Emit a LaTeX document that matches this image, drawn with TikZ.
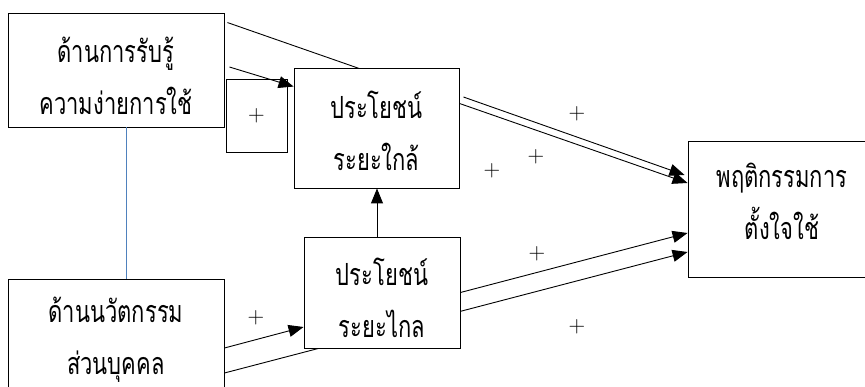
\documentclass[tikz,border=0pt]{standalone}
\usepackage{fontspec}
\newfontfamily\thaifont[Script=Thai,FakeStretch=0.72]{Loma}
\usetikzlibrary{arrows.meta,backgrounds}
\definecolor{linkblue}{RGB}{79,129,189}
\tikzset{
  box/.style={draw=black,line width=0.9pt,fill=white,inner sep=0pt},
  txt/.style={align=center,inner sep=0pt,
    font=\thaifont\fontsize{30.5}{52}\selectfont},
  plus/.style={inner sep=0pt,font=\fontsize{23}{23}\selectfont},
  link/.style={draw=black,line width=0.9pt,-{Triangle[length=15pt,width=12pt]}},
}
\begin{document}
\begin{tikzpicture}[x=1pt,y=-1pt]
\useasboundingbox (0,0) rectangle (865,387);
\clip (0,0) rectangle (865,387);

% boxes
\node[box,minimum width=216pt,minimum height=114pt] (A) at (116,70) {};
\node[box,minimum width=61pt,minimum height=73pt,plus] (B) at (256.5,115.5) {+};
\node[box,minimum width=165pt,minimum height=120pt] (C) at (376.5,128) {};
\node[box,minimum width=188pt,minimum height=136pt] (D) at (782,209) {};
\node[box,minimum width=156pt,minimum height=111pt] (E) at (382,292.5) {};
\node[box,minimum width=216pt,minimum height=122pt] (F) at (116,340) {};

% box texts
\node[txt] (At) at (116,76) {ด้านการรับรู้\\ความง่ายการใช้};
\node[txt] (Ct) at (376.5,131) {ประโยชน์\\ระยะใกล้};
\node[txt] (Dt) at (782,201) {พฤติกรรมการ\\ตั้งใจใช้};
\node[txt] (Et) at (382,297.5) {ประโยชน์\\ระยะไกล};
\node[txt] (Ft) at (116,340) {ด้านนวัตกรรม\\ส่วนบุคคล};

% long links that pass behind the middle boxes
\begin{scope}[on background layer]
  \fill[white] (0,0) rectangle (865,387);
  \draw[link] ([xshift=3pt,yshift=-10pt]A.north east) -- ([yshift=26pt]D.west);
  \draw[link] ([yshift=-33pt]F.east) -- ([yshift=-43pt]D.west);
\end{scope}

% other links
\draw[link] ([xshift=5pt,yshift=3pt]A.east) -- ([yshift=-19pt]C.north west);
\draw[link] ([xshift=4pt,yshift=31pt]C.east) -- ([xshift=-3pt,yshift=34pt]D.west);
\draw[link] ([xshift=-5pt]E.north) -- ([xshift=-5pt]E.north |- C.south);
\draw[link] ([yshift=-8pt]F.east) -- ([yshift=-34.5pt]E.west);
\draw[link] (E.east) -- ([yshift=-24pt]D.west);
\draw[line width=0.9pt,draw=linkblue] ([xshift=10pt]A.south) -- ([xshift=10pt]F.north);

% signs
\node[plus] (p1) at (577,114) {+};
\node[plus] (p2) at (536,157) {+};
\node[plus] (p3) at (492,171) {+};
\node[plus] (p4) at (537,254) {+};
\node[plus] (p5) at (577,327) {+};
\node[plus] (p6) at (256,318) {+};
\end{tikzpicture}
\end{document}
